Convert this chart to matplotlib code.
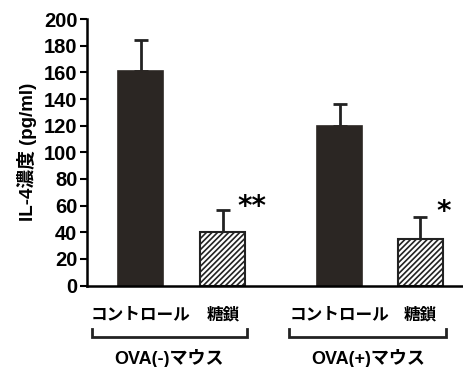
import matplotlib.pyplot as plt

plt.rcParams['font.family'] = ['Liberation Sans', 'Noto Sans CJK JP', 'DejaVu Sans']
plt.rcParams['font.weight'] = 'bold'
plt.rcParams['hatch.linewidth'] = 1.2

categories = ['コントロール', '糖鎖', 'コントロール', '糖鎖']
groups = ['OVA(-)マウス', 'OVA(+)マウス']
values = [161, 40, 120, 35]
errors = [23, 17, 16, 16.5]
marks = ['', '**', '', '*']
positions = [0, 1, 2.42, 3.4]
yticks = list(range(0, 201, 20))

fig = plt.figure(figsize=(4.63, 3.67), dpi=100)
ax = fig.add_axes([0.188, 0.222, 0.812, 0.726])

dark = '#2b2623'
for i, (x, v, e) in enumerate(zip(positions, values, errors)):
    if i % 2 == 0:
        ax.bar(x, v, width=0.55, color=dark, edgecolor=dark, linewidth=1.2, zorder=2)
    else:
        ax.bar(x, v, width=0.55, color='white', edgecolor='#222', hatch='//////',
               linewidth=1.5, zorder=2)
    ax.errorbar(x, v, yerr=[[0], [e]], fmt='none', ecolor='#222', elinewidth=2,
                capsize=5, capthick=2, zorder=1)

ax.text(1.36, 59, marks[1], ha='center', va='center', fontsize=20,
        fontweight='bold', family='DejaVu Sans')
ax.text(3.69, 55, marks[3], ha='center', va='center', fontsize=20,
        fontweight='bold', family='DejaVu Sans')

ax.set_xlim(-0.65, 3.92)
ax.set_ylim(0, 200)
ax.set_yticks(yticks)
ax.set_xticks([])
ax.tick_params(axis='y', labelsize=14.5, width=1.5, length=5, pad=2)
for lab in ax.get_yticklabels():
    lab.set_fontweight('bold')
ax.spines['top'].set_visible(False)
ax.spines['right'].set_visible(False)
ax.spines['left'].set_linewidth(1.8)
ax.spines['bottom'].set_linewidth(1.8)
ax.set_ylabel('IL-4濃度 (pg/ml)', fontsize=13.5, fontweight='bold', labelpad=5)

# category labels
for x, c in zip(positions, categories):
    ax.text(x, -22, c, ha='center', va='center', fontsize=12, clip_on=False)

# brackets and group labels
brackets = [(-0.588, 1.29), (1.81, 3.715)]
for (x0, x1), g in zip(brackets, groups):
    ax.plot([x0, x0, x1, x1], [-32.5, -38.5, -38.5, -32.5], color='#222', lw=2,
            clip_on=False, solid_joinstyle='miter')
    ax.text((x0 + x1) / 2, -54.5, g, ha='center', va='center', fontsize=13,
            fontweight='bold', clip_on=False)

fig.savefig('out.png', dpi=100)
